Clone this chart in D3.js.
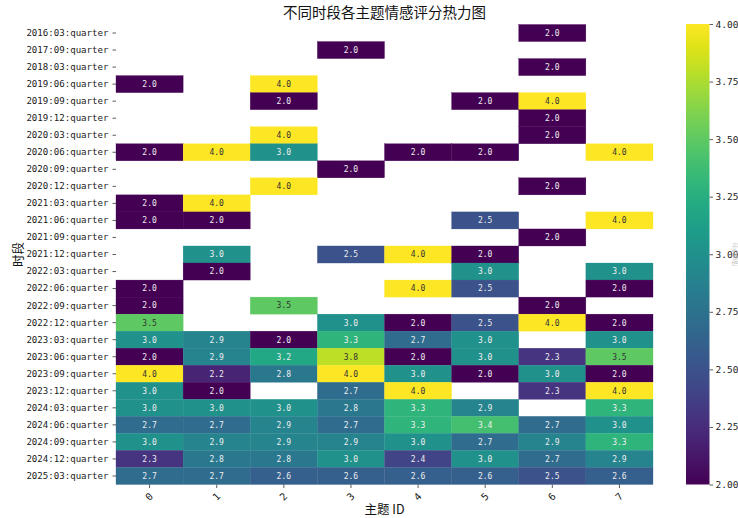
<!DOCTYPE html>
<html>
<head>
<meta charset="utf-8">
<script src="https://cdn.jsdelivr.net/npm/d3@7"></script>
<style>
  html, body { margin: 0; padding: 0; background: #fff; }
  svg { display: block; }
</style>
</head>
<body>
<svg id="chart" width="738" height="518"></svg>
<script>
// Periods (rows) and topic ids (columns)
const periods = [
  "2016:03:quarter", "2017:09:quarter", "2018:03:quarter", "2019:06:quarter",
  "2019:09:quarter", "2019:12:quarter", "2020:03:quarter", "2020:06:quarter",
  "2020:09:quarter", "2020:12:quarter", "2021:03:quarter", "2021:06:quarter",
  "2021:09:quarter", "2021:12:quarter", "2022:03:quarter", "2022:06:quarter",
  "2022:09:quarter", "2022:12:quarter", "2023:03:quarter", "2023:06:quarter",
  "2023:09:quarter", "2023:12:quarter", "2024:03:quarter", "2024:06:quarter",
  "2024:09:quarter", "2024:12:quarter", "2025:03:quarter"
];
const topics = ["0", "1", "2", "3", "4", "5", "6", "7"];

// Mean sentiment score per period (row) and topic (column); null = no data
const scores = [
  [null, null, null, null, null, null, 2.0, null],
  [null, null, null, 2.0, null, null, null, null],
  [null, null, null, null, null, null, 2.0, null],
  [2.0, null, 4.0, null, null, null, null, null],
  [null, null, 2.0, null, null, 2.0, 4.0, null],
  [null, null, null, null, null, null, 2.0, null],
  [null, null, 4.0, null, null, null, 2.0, null],
  [2.0, 4.0, 3.0, null, 2.0, 2.0, null, 4.0],
  [null, null, null, 2.0, null, null, null, null],
  [null, null, 4.0, null, null, null, 2.0, null],
  [2.0, 4.0, null, null, null, null, null, null],
  [2.0, 2.0, null, null, null, 2.5, null, 4.0],
  [null, null, null, null, null, null, 2.0, null],
  [null, 3.0, null, 2.5, 4.0, 2.0, null, null],
  [null, 2.0, null, null, null, 3.0, null, 3.0],
  [2.0, null, null, null, 4.0, 2.5, null, 2.0],
  [2.0, null, 3.5, null, null, null, 2.0, null],
  [3.5, null, null, 3.0, 2.0, 2.5, 4.0, 2.0],
  [3.0, 2.9, 2.0, 3.3, 2.7, 3.0, null, 3.0],
  [2.0, 2.9, 3.2, 3.8, 2.0, 3.0, 2.3, 3.5],
  [4.0, 2.2, 2.8, 4.0, 3.0, 2.0, 3.0, 2.0],
  [3.0, 2.0, null, 2.7, 4.0, null, 2.3, 4.0],
  [3.0, 3.0, 3.0, 2.8, 3.3, 2.9, null, 3.3],
  [2.7, 2.7, 2.9, 2.7, 3.3, 3.4, 2.7, 3.0],
  [3.0, 2.9, 2.9, 2.9, 3.0, 2.7, 2.9, 3.3],
  [2.3, 2.8, 2.8, 3.0, 2.4, 3.0, 2.7, 2.9],
  [2.7, 2.7, 2.6, 2.6, 2.6, 2.6, 2.5, 2.6]
];

const colorTicks = [2.0, 2.25, 2.5, 2.75, 3.0, 3.25, 3.5, 3.75, 4.0];

const titleText = "不同时段各主题情感评分热力图";
const xTitle = "主题 ID";
const yTitle = "时段";
const cbTitle = "情感评分";

const svg = d3.select("#chart");
const plot = { left: 116, right: 653, top: 24.5, bottom: 484.5 };

const x = d3.scaleBand().domain(topics).range([plot.left, plot.right]);
const y = d3.scaleBand().domain(periods).range([plot.top, plot.bottom]);
const color = d3.scaleSequential(d3.interpolateViridis).domain([2, 4]);

const monoFont = "'DejaVu Sans Mono', 'Liberation Mono', monospace";
const cjkFont = "'Noto Sans CJK SC', 'Noto Sans', sans-serif";

// Flatten grid into cells
const cells = [];
scores.forEach((row, i) => row.forEach((v, j) => {
  if (v !== null) cells.push({ period: periods[i], topic: topics[j], value: v });
}));

// Relative luminance to pick annotation colour
function luminance(c) {
  const rgb = d3.rgb(c);
  const lin = [rgb.r, rgb.g, rgb.b].map(v => {
    v /= 255;
    return v <= 0.03928 ? v / 12.92 : Math.pow((v + 0.055) / 1.055, 2.4);
  });
  return 0.2126 * lin[0] + 0.7152 * lin[1] + 0.0722 * lin[2];
}

// Heatmap cells
svg.append("g").selectAll("rect")
  .data(cells)
  .join("rect")
  .attr("x", d => x(d.topic))
  .attr("y", d => y(d.period))
  .attr("width", x.bandwidth())
  .attr("height", y.bandwidth())
  .attr("fill", d => color(d.value))
  .attr("stroke", d => color(d.value))
  .attr("stroke-width", 0.3);

// Annotations
svg.append("g").selectAll("text")
  .data(cells)
  .join("text")
  .attr("x", d => x(d.topic) + x.bandwidth() / 2)
  .attr("y", d => y(d.period) + y.bandwidth() / 2)
  .attr("dy", "0.36em")
  .attr("text-anchor", "middle")
  .attr("font-family", monoFont)
  .attr("font-size", 8)
  .attr("fill", d => luminance(color(d.value)) > 0.408 ? "#333333" : "#eeeeee")
  .text(d => d.value.toFixed(1));

// Y axis
const yAxis = svg.append("g")
  .attr("transform", `translate(${plot.left},0)`)
  .call(d3.axisLeft(y).tickSize(3.5).tickPadding(4));
yAxis.select(".domain").remove();
yAxis.selectAll(".tick line").attr("stroke", "#333").attr("stroke-width", 0.8);
yAxis.selectAll(".tick text")
  .attr("font-family", monoFont)
  .attr("font-size", 9.1)
  .attr("fill", "#1a1a1a");

// X axis
const xAxis = svg.append("g")
  .attr("transform", `translate(0,${plot.bottom})`)
  .call(d3.axisBottom(x).tickSize(3.5).tickPadding(0));
xAxis.select(".domain").remove();
xAxis.selectAll(".tick line").attr("stroke", "#333").attr("stroke-width", 0.8);
xAxis.selectAll(".tick text")
  .attr("font-family", monoFont)
  .attr("font-size", 10)
  .attr("fill", "#1a1a1a")
  .attr("text-anchor", "middle")
  .attr("dy", 0)
  .attr("y", 0)
  .attr("transform", "translate(0,12.5) rotate(-45)")
  .attr("dominant-baseline", "middle");

// Title and axis titles
svg.append("text")
  .attr("x", (plot.left + plot.right) / 2)
  .attr("y", 18)
  .attr("text-anchor", "middle")
  .attr("font-family", cjkFont)
  .attr("font-size", 14.5)
  .attr("fill", "#111")
  .text(titleText);

svg.append("text")
  .attr("x", (plot.left + plot.right) / 2)
  .attr("y", 514)
  .attr("text-anchor", "middle")
  .attr("font-family", cjkFont)
  .attr("font-size", 12.5)
  .attr("fill", "#111")
  .text(xTitle);

svg.append("text")
  .attr("transform", `translate(23,${(plot.top + plot.bottom) / 2}) rotate(-90)`)
  .attr("text-anchor", "middle")
  .attr("font-family", cjkFont)
  .attr("font-size", 12.5)
  .attr("fill", "#111")
  .text(yTitle);

// Colour bar
const cb = { x: 686, w: 23.5, top: 24, bottom: 484.5 };
const cbScale = d3.scaleLinear().domain([2, 4]).range([cb.bottom, cb.top]);
const defs = svg.append("defs");
const grad = defs.append("linearGradient")
  .attr("id", "cbgrad")
  .attr("x1", 0).attr("y1", 1).attr("x2", 0).attr("y2", 0);
d3.range(0, 1.0001, 0.05).forEach(t => {
  grad.append("stop")
    .attr("offset", t)
    .attr("stop-color", color(2 + 2 * t));
});
svg.append("rect")
  .attr("x", cb.x)
  .attr("y", cb.top)
  .attr("width", cb.w)
  .attr("height", cb.bottom - cb.top)
  .attr("fill", "url(#cbgrad)");

const cbAxis = svg.append("g")
  .attr("transform", `translate(${cb.x + cb.w},0)`)
  .call(d3.axisRight(cbScale).tickValues(colorTicks).tickFormat(d3.format(".2f")).tickSize(3.5).tickPadding(2.5));
cbAxis.select(".domain").remove();
cbAxis.selectAll(".tick line").attr("stroke", "#333").attr("stroke-width", 0.8);
cbAxis.selectAll(".tick text")
  .attr("font-family", monoFont)
  .attr("font-size", 9.5)
  .attr("fill", "#222");

// Colour bar title, small and faint along the right edge
svg.append("text")
  .attr("transform", `translate(731,${(cb.top + cb.bottom) / 2}) rotate(-90)`)
  .attr("text-anchor", "middle")
  .attr("dominant-baseline", "hanging")
  .attr("font-family", cjkFont)
  .attr("font-size", 6)
  .attr("fill", "#c4c4c4")
  .text(cbTitle);
</script>
</body>
</html>
